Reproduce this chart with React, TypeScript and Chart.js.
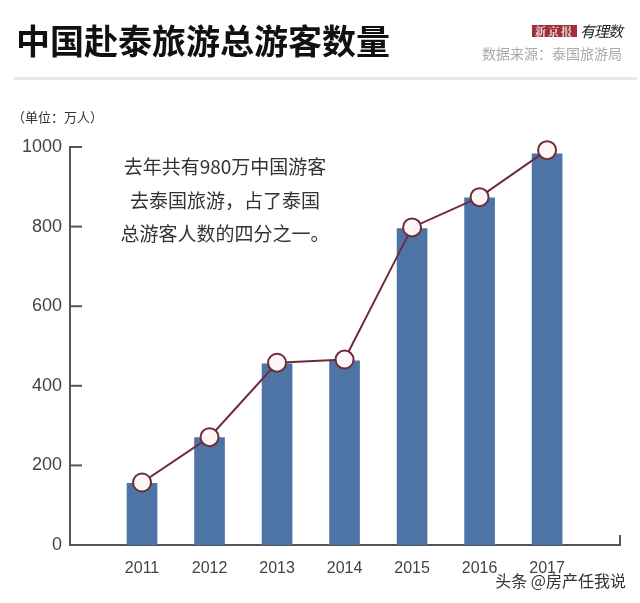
import React, { useEffect, useRef } from "react";
import { Chart, registerables } from "chart.js";

Chart.register(...registerables);

const years = [2011, 2012, 2013, 2014, 2015, 2016, 2017];
const barValues = [155, 270, 455, 463, 795, 872, 983];
const lineValues = [157, 271, 458, 466, 798, 874, 992];
const yMin = 0;
const yMax = 1000;
const yStep = 200;
const titleText = "中国赴泰旅游总游客数量";
const sourceText = "数据来源：泰国旅游局";
const unitText = "（单位：万人）";
const noteLines = ["去年共有980万中国游客", "去泰国旅游，占了泰国", "总游客人数的四分之一。"];
const watermark = "头条 @房产任我说";

const CJK = '"Noto Sans CJK SC", "Noto Sans", sans-serif';

const axisMarks = {
  id: "axisMarks",
  afterDraw(chart: any) {
    const { ctx, chartArea } = chart;
    const ys = chart.scales.y;
    ctx.save();
    ctx.strokeStyle = "#555";
    ctx.lineWidth = 2;
    ys.ticks.forEach((t: any) => {
      const py = ys.getPixelForValue(t.value);
      ctx.beginPath();
      ctx.moveTo(chartArea.left, py);
      ctx.lineTo(chartArea.left + 12, py);
      ctx.stroke();
    });
    ctx.beginPath();
    ctx.moveTo(chartArea.right, chartArea.bottom);
    ctx.lineTo(chartArea.right, chartArea.bottom - 10);
    ctx.stroke();
    ctx.restore();
  },
};

export default function App() {
  const ref = useRef<HTMLCanvasElement | null>(null);
  useEffect(() => {
    if (!ref.current) return;
    const chart = new Chart(ref.current, {
      type: "bar",
      data: {
        datasets: [
          {
            type: "line",
            order: 0,
            clip: false,
            data: years.map((x, i) => ({ x, y: lineValues[i] })),
            borderColor: "#6e2d3b",
            borderWidth: 2,
            pointRadius: 9,
            pointBackgroundColor: "#fff6f8",
            pointBorderColor: "#6e2d3b",
            pointBorderWidth: 2,
            tension: 0,
          } as any,
          {
            type: "bar",
            order: 1,
            data: years.map((x, i) => ({ x, y: barValues[i] })),
            backgroundColor: "#4e74a5",
            barThickness: 30,
          } as any,
        ],
      },
      options: {
        responsive: false,
        animation: false,
        layout: { padding: { left: 0, right: 20, top: 147, bottom: 0 } },
        plugins: { legend: { display: false }, tooltip: { enabled: false } },
        scales: {
          x: {
            type: "linear",
            offset: false,
            min: 2009.933,
            max: 2018.08,
            afterBuildTicks: (s: any) => {
              s.ticks = years.map((v) => ({ value: v }));
            },
            afterFit: (s: any) => {
              s.height = 58;
            },
            grid: { display: false, drawTicks: false, offset: false },
            border: { display: true, color: "#555", width: 2 },
            ticks: {
              callback: (v: any) => String(v),
              font: { family: '"Liberation Sans Narrow", "Liberation Sans", Arial', size: 16 },
              color: "#444",
              padding: 14,
              maxRotation: 0,
            },
          },
          y: {
            min: yMin,
            max: yMax,
            afterFit: (s: any) => {
              s.width = 70;
            },
            grid: { display: false, drawTicks: false },
            border: { display: true, color: "#555", width: 2 },
            ticks: {
              stepSize: yStep,
              callback: (v: any) => String(v),
              font: { family: '"Liberation Sans", Arial', size: 18 },
              color: "#444",
              padding: 8,
            },
          },
        },
      },
      plugins: [axisMarks],
    });
    return () => chart.destroy();
  }, []);

  return (
    <div style={{ position: "fixed", left: 0, top: 0, width: 640, height: 603, background: "#fff", overflow: "hidden" }}>
      <canvas ref={ref} width={640} height={603} style={{ position: "absolute", left: 0, top: 0 }} />
      <div style={{ position: "absolute", left: 16, top: 18, fontFamily: CJK, fontWeight: 700, fontSize: 34, color: "#111", whiteSpace: "nowrap", lineHeight: "44px" }}>
        {titleText}
      </div>
      <div style={{ position: "absolute", right: 18, top: 22, display: "flex", alignItems: "center", gap: 3, whiteSpace: "nowrap" }}>
        <span style={{ background: "#9e2f3a", color: "#f4d9dc", fontFamily: '"Noto Serif CJK SC", ' + CJK, fontWeight: 700, fontSize: 11, lineHeight: "12px", padding: "0 3px", letterSpacing: 2 }}>新京报</span>
        <span style={{ fontFamily: CJK, fontStyle: "italic", fontSize: 15, color: "#222", lineHeight: "18px", letterSpacing: -1 }}>有理数</span>
      </div>
      <div style={{ position: "absolute", right: 18, top: 43, fontFamily: CJK, fontSize: 14, color: "#aaa", whiteSpace: "nowrap", lineHeight: "20px" }}>
        {sourceText}
      </div>
      <div style={{ position: "absolute", left: 14, width: 623, top: 77, height: 3, background: "#e8e8e8" }} />
      <div style={{ position: "absolute", left: 12, top: 107, fontFamily: CJK, fontSize: 13, color: "#333", whiteSpace: "nowrap", lineHeight: "20px" }}>
        {unitText}
      </div>
      <div style={{ position: "absolute", left: 95, width: 260, top: 149, fontFamily: CJK, fontSize: 19, color: "#333", textAlign: "center", lineHeight: "33.5px", whiteSpace: "nowrap" }}>
        {noteLines.map((l, i) => (
          <div key={i}>{l}</div>
        ))}
      </div>
      <div style={{ position: "absolute", right: 14, top: 569, fontFamily: CJK, fontSize: 16, color: "#333", whiteSpace: "nowrap", lineHeight: "22px" }}>
        {watermark}
      </div>
    </div>
  );
}
